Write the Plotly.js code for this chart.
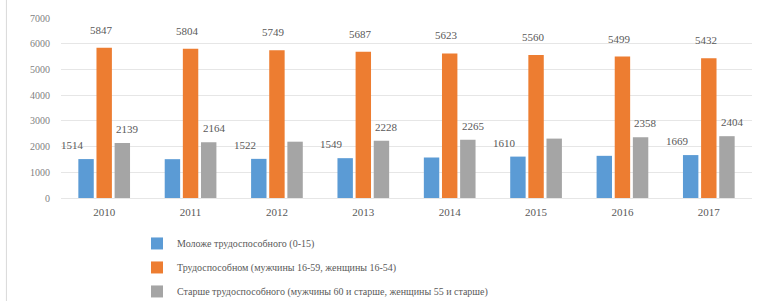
<!DOCTYPE html>
<html>
<head>
<meta charset="utf-8">
<script src="https://cdn.plot.ly/plotly-3.0.1.min.js"></script>
<style>html,body{margin:0;padding:0;background:#fff;}#chart{width:763px;height:301px;}</style>
</head>
<body>
<div id="chart"></div>
<script>
const years = ['2010','2011','2012','2013','2014','2015','2016','2017'];
const youngerValues = [1514, 1510, 1522, 1549, 1575, 1610, 1640, 1669];
const workingValues = [5847, 5804, 5749, 5687, 5623, 5560, 5499, 5432];
const olderValues = [2139, 2164, 2190, 2228, 2265, 2310, 2358, 2404];
const youngerLabelShown = [true, false, true, true, false, true, false, true];
const workingLabelShown = [true, true, true, true, true, true, true, true];
const olderLabelShown = [true, true, false, true, true, false, true, true];
const seriesNames = [
  'Моложе трудоспособного (0-15)',
  'Трудоспособном (мужчины 16-59, женщины 16-54)',
  'Старше трудоспособного (мужчины 60 и старше, женщины 55 и старше)'
];
const yTicks = [0, 1000, 2000, 3000, 4000, 5000, 6000, 7000];

const colors = ['#5B9BD5', '#ED7D31', '#A5A5A5'];
const allValues = [youngerValues, workingValues, olderValues];
const allShown = [youngerLabelShown, workingLabelShown, olderLabelShown];

const traces = allValues.map((vals, i) => ({
  type: 'bar',
  x: years,
  y: vals,
  name: seriesNames[i],
  legendgroup: 'g' + i,
  marker: {color: colors[i]},
  hoverinfo: 'y'
}));

// data labels, placed over each bar via axis scales with per-series offsets
const xShifts = [-12, -3, 4];
const yShifts = [6, 10, 6];
const annotations = [];
allValues.forEach((vals, i) => {
  vals.forEach((v, j) => {
    if (!allShown[i][j]) return;
    annotations.push({
      x: j, y: v, xref: 'x', yref: 'y',
      text: String(v), showarrow: false,
      xshift: xShifts[i] + (i - 1) * 19.5, yshift: yShifts[i],
      yanchor: 'bottom',
      font: {family: 'Liberation Serif, DejaVu Serif, serif', size: 11, color: '#595959'}
    });
  });
});

const layout = {
  width: 763, height: 301,
  margin: {l: 61, r: 11, t: 18, b: 103, autoexpand: false},
  paper_bgcolor: '#ffffff', plot_bgcolor: '#ffffff',
  barmode: 'group', bargap: 0.37, bargroupgap: 0.15,
  showlegend: true,
  legend: {
    orientation: 'v', x: 0.11, xanchor: 'left', y: -0.172, yanchor: 'top',
    tracegroupgap: 5,
    font: {family: 'Liberation Serif, DejaVu Serif, serif', size: 10, color: '#595959'},
    bgcolor: 'rgba(0,0,0,0)'
  },
  xaxis: {
    type: 'category', range: [-0.5, 7.5], autorange: false,
    showgrid: false, zeroline: false, showline: false,
    ticks: '', ticklabelstandoff: 6,
    tickfont: {family: 'Liberation Serif, DejaVu Serif, serif', size: 11, color: '#595959'}
  },
  yaxis: {
    range: [0, 7000], autorange: false, tickvals: yTicks, ticktext: yTicks.map(String),
    showgrid: true, gridcolor: '#E6E6E6', gridwidth: 1,
    zeroline: true, zerolinecolor: '#E6E6E6', showline: false, ticks: '',
    ticklabelstandoff: 10,
    tickfont: {family: 'Liberation Serif, DejaVu Serif, serif', size: 10, color: '#7F7F7F'}
  },
  annotations: annotations,
  shapes: [{
    type: 'line', xref: 'paper', yref: 'paper',
    x0: -0.079, x1: -0.079, y0: -0.6, y1: 1.1,
    line: {color: '#D9D9D9', width: 1}
  }]
};

Plotly.newPlot('chart', traces, layout, {displayModeBar: false, staticPlot: true});
</script>
</body>
</html>
